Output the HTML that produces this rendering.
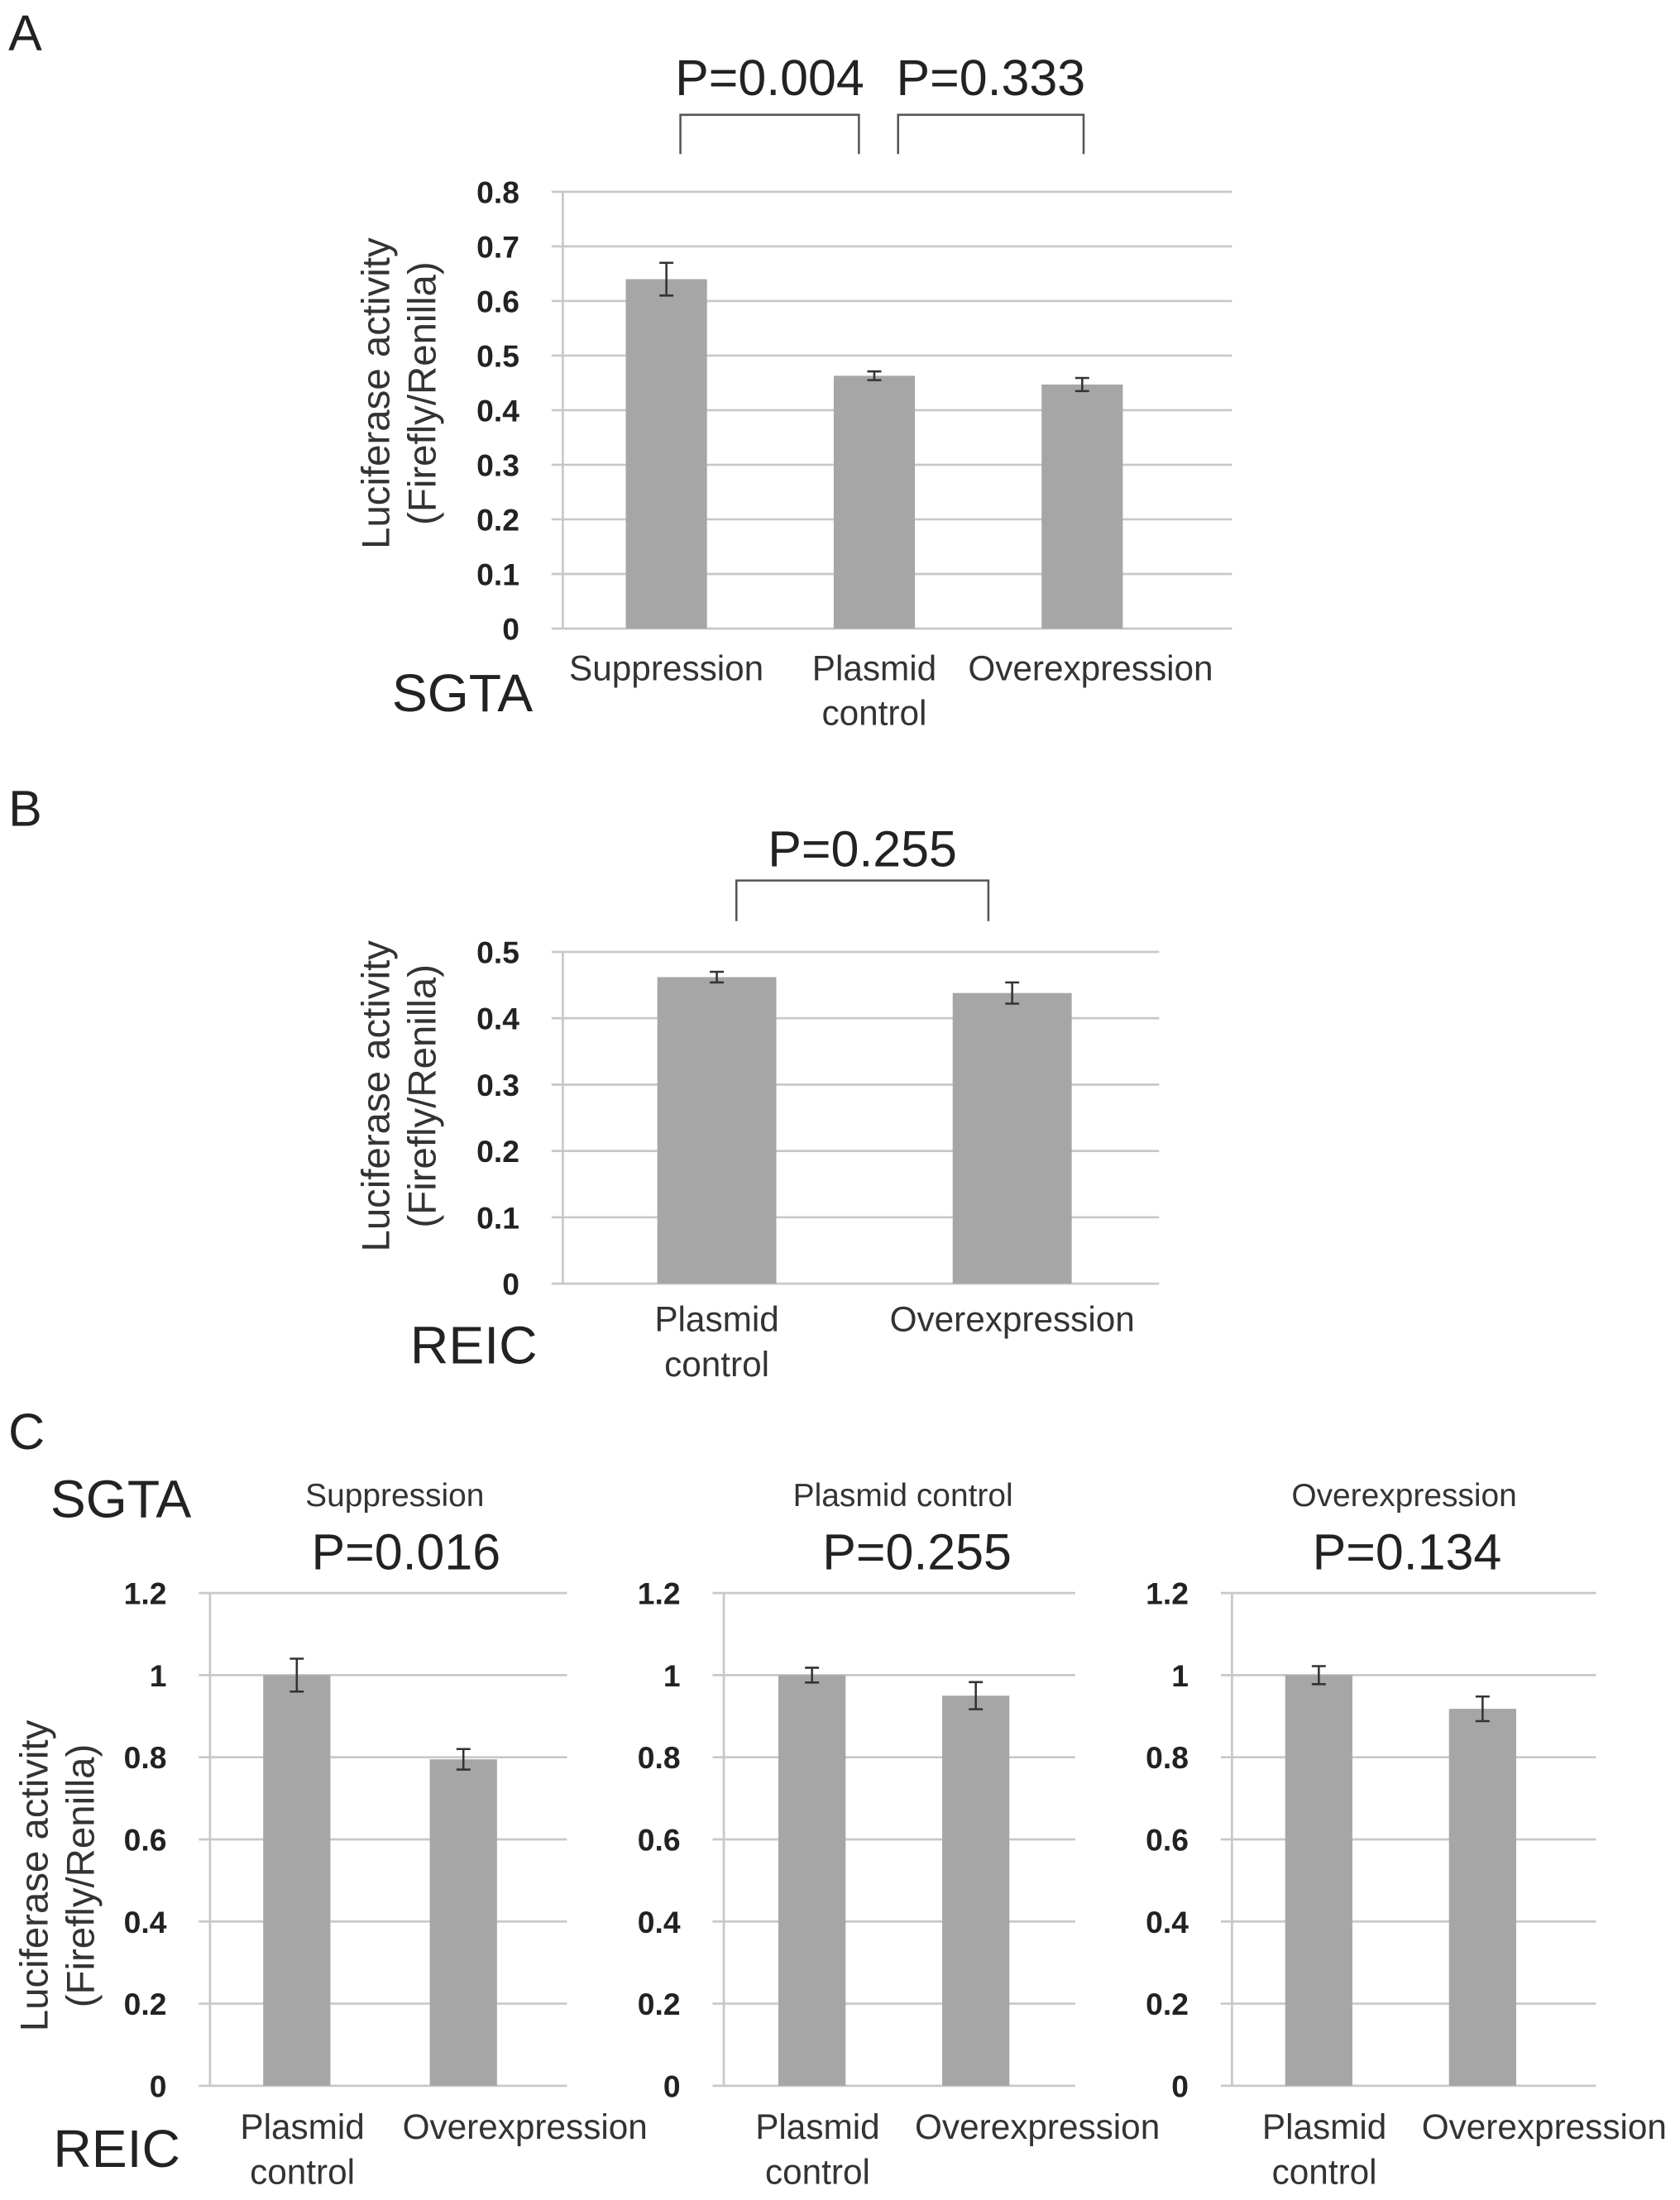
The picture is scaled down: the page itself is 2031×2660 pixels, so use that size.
<!DOCTYPE html>
<html><head><meta charset="utf-8"><style>
html,body{margin:0;padding:0;background:#fff;}
svg{display:block;font-family:"Liberation Sans",Arial,sans-serif;}
</style></head><body>
<svg id="fig" width="2031" height="2660" viewBox="0 0 1200 1571.6" xmlns="http://www.w3.org/2000/svg">
<g fill="#222">
<text x="6" y="36" font-size="36">A</text>
<text x="6" y="590" font-size="36">B</text>
<text x="6" y="1035" font-size="36">C</text>
<text x="280" y="508" font-size="38">SGTA</text>
<text x="293" y="974" font-size="38">REIC</text>
<text x="36" y="1084" font-size="38">SGTA</text>
<text x="38" y="1548" font-size="38">REIC</text>
</g>
<g id="charts"></g>
</svg>
<script>
// Panel A data
const catsA = [["Suppression"],["Plasmid","control"],["Overexpression"]];
const valsA = [0.64, 0.463, 0.447];
const errsA = [0.03, 0.008, 0.012];
const ticksA = ["0","0.1","0.2","0.3","0.4","0.5","0.6","0.7","0.8"];
// Panel B data
const catsB = [["Plasmid","control"],["Overexpression"]];
const valsB = [0.462, 0.438];
const errsB = [0.008, 0.016];
const ticksB = ["0","0.1","0.2","0.3","0.4","0.5"];
// Panel C data
const catsC = [["Plasmid","control"],["Overexpression"]];
const valsC1 = [1.0, 0.795];
const errsC1 = [0.04, 0.025];
const valsC2 = [1.0, 0.95];
const errsC2 = [0.018, 0.033];
const valsC3 = [1.0, 0.918];
const errsC3 = [0.022, 0.03];
const ticksC = ["0","0.2","0.4","0.6","0.8","1","1.2"];
const titlesC = ["Suppression","Plasmid control","Overexpression"];
const pC = ["P=0.016","P=0.255","P=0.134"];

const NS="http://www.w3.org/2000/svg";
const root=document.getElementById('charts');
function mk(tag,attrs,parent){const e=document.createElementNS(NS,tag);for(const k in attrs)e.setAttribute(k,attrs[k]);(parent||root).appendChild(e);return e;}

function chart(o){
  const g=mk('g',{});
  
  
  const maxV=parseFloat(o.ticks[o.ticks.length-1]);
  const y=v=>o.y0-(v/maxV)*(o.y0-o.yTop);
  const x=i=>o.left+o.first+o.step*i;
  o.ticks.forEach(t=>{
    const yy=y(parseFloat(t));
    const l=mk('line',{x1:o.left-8,x2:o.right,y1:yy,y2:yy,stroke:'#c8c8c8','stroke-width':1.6},g);
    
    
    const tx=mk('text',{x:o.left-31,y:yy+8,'font-size':22,'font-weight':'bold','text-anchor':'end',fill:'#222'},g);
    tx.textContent=t;
    
    
  });
  const ax=mk('line',{x1:o.left,x2:o.left,y1:o.yTop,y2:o.y0,stroke:'#c8c8c8','stroke-width':1.6},g);
  
  
  o.vals.forEach((v,i)=>{
    const b=mk('rect',{x:x(i)-o.bw/2,y:y(v),width:o.bw,height:o.y0-y(v),fill:'#a6a6a6'},g);
    
    
    const e=o.errs[i], hi=y(v+e), lo=y(v-e);
    const eb=mk('path',{d:`M${x(i)-5},${hi}H${x(i)+5}M${x(i)},${hi}V${lo}M${x(i)-5},${lo}H${x(i)+5}`,stroke:'#333','stroke-width':1.5,fill:'none'},g);
    
    
    o.cats[i].forEach((line,j)=>{
      const t=mk('text',{x:x(i)+(o.labShift?o.labShift[i]:0),y:o.y0+o.labDy+j*32,'font-size':25,'text-anchor':'middle',fill:'#333'},g);
      t.textContent=line;
      
      
    });
  });
  if(o.ytitle){
    const t=mk('text',{transform:`translate(${o.ytx},${o.yty}) rotate(-90)`,'font-size':28,'text-anchor':'middle',fill:'#333'},g);
    
    
    const a=mk('tspan',{x:0,dy:0},t);a.textContent='Luciferase activity';
    const b2=mk('tspan',{x:0,dy:33},t);b2.textContent='(Firefly/Renilla)';
  }
  return {x,y,g};
}
function bracket(g,x1,x2,yTop,yBot,label,ty){
  const p=mk('path',{d:`M${x1},${yBot}V${yTop}H${x2}V${yBot}`,stroke:'#555','stroke-width':1.5,fill:'none'},g);
  
  
  const t=mk('text',{x:(x1+x2)/2,y:ty,'font-size':36,'text-anchor':'middle',fill:'#222'},g);
  t.textContent=label;
  
  
}

const A=chart({name:'chart-a',left:402,right:880,first:74,step:148.5,y0:449,yTop:137,bw:58,vals:valsA,errs:errsA,ticks:ticksA,cats:catsA,labDy:37,labShift:[0,0,6],ytitle:true,ytx:278,yty:281});
bracket(A.g,A.x(0)+10,A.x(1)-11,82,110,'P=0.004',68);
bracket(A.g,A.x(1)+17,A.x(2)+1,82,110,'P=0.333',68);

const B=chart({name:'chart-b',left:402,right:828,first:110,step:211,y0:917,yTop:680,bw:85,vals:valsB,errs:errsB,ticks:ticksB,cats:catsB,labDy:34,ytitle:true,ytx:278,yty:783});
bracket(B.g,B.x(0)+14,B.x(1)-17,629,658,'P=0.255',619);

const cfg=[{left:150,right:405,first:62,step:119,v:valsC1,e:errsC1,tc:282,pc:290},{left:517,right:768,first:63,step:117,v:valsC2,e:errsC2,tc:645,pc:655},{left:880,right:1140,first:62,step:117,v:valsC3,e:errsC3,tc:1003,pc:1005}];
cfg.forEach((c,k)=>{
  const C=chart({name:'chart-c'+(k+1),left:c.left,right:c.right,first:c.first,step:c.step,y0:1490,yTop:1138,bw:48,vals:c.v,errs:c.e,ticks:ticksC,cats:catsC,labDy:38,labShift:[4,44],ytitle:k===0,ytx:34,yty:1340});
  const t=mk('text',{x:c.tc,y:1076,'font-size':23,'text-anchor':'middle',fill:'#333'},C.g);
  t.textContent=titlesC[k];
  
  
  const p=mk('text',{x:c.pc,y:1121,'font-size':36,'text-anchor':'middle',fill:'#222'},C.g);
  p.textContent=pC[k];
  
  
});
</script>
</body></html>
